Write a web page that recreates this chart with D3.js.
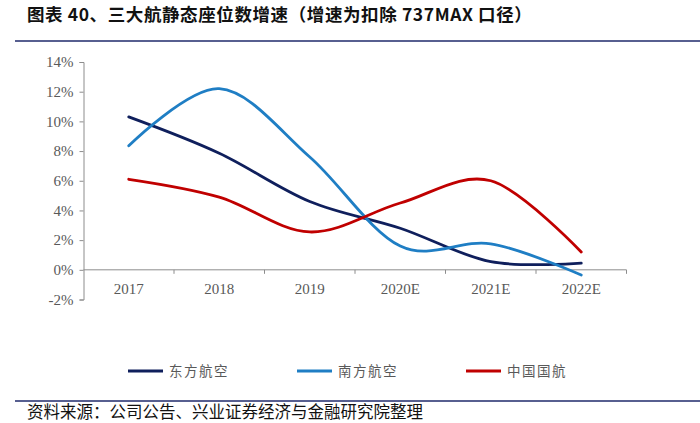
<!DOCTYPE html>
<html>
<head>
<meta charset="utf-8">
<script src="https://cdn.jsdelivr.net/npm/d3@7"></script>
<style>
  body { margin: 0; background: #fff; }
  svg { display: block; }
</style>
</head>
<body>
<script>
// données (%)
const annees = ["2017", "2018", "2019", "2020E", "2021E", "2022E"];
const dongfang = [10.3, 7.85, 4.6, 2.8, 0.55, 0.45];
const nanfang = [8.35, 12.2, 7.6, 1.6, 1.75, -0.35];
const guohang = [6.1, 4.9, 2.55, 4.5, 6.0, 1.2];
const yTicks = [-2, 0, 2, 4, 6, 8, 10, 12, 14];

const series = [
  { nom: "东方航空", valeurs: dongfang, couleur: "#0f1f5c" },
  { nom: "南方航空", valeurs: nanfang, couleur: "#1f7ec4" },
  { nom: "中国国航", valeurs: guohang, couleur: "#c00000" }
];

const W = 700, H = 423;
const svg = d3.select("body").append("svg")
  .attr("width", W)
  .attr("height", H);

// titre + filet
svg.append("text")
  .text("图表 40、三大航静态座位数增速（增速为扣除 737MAX 口径）")
  .attr("x", 27)
  .attr("y", 21)
  .style("font-family", "'Noto Sans CJK SC'")
  .style("font-weight", "bold")
  .style("font-size", "17.5px")
  .style("letter-spacing", "0.6px")
  .style("fill", "#111");

svg.append("line")
  .attr("x1", 15).attr("x2", W)
  .attr("y1", 41).attr("y2", 41)
  .attr("stroke", "#1f2a6b")
  .attr("stroke-width", 1.5);

// échelles
const x = d3.scaleBand()
  .domain(annees)
  .range([83.5, 626.5]);

const y = d3.scaleLinear()
  .domain([-2, 14])
  .range([299.5, 62]);

const gris = "#8c8c8c";
const police = "'Liberation Serif', 'Times New Roman', serif";

// axe Y
const axeY = svg.append("g")
  .attr("transform", "translate(83.5,0)")
  .call(d3.axisLeft(y).tickValues(yTicks).tickSize(4).tickPadding(6).tickFormat(d => d + "%"));
axeY.select(".domain").attr("stroke", gris);
axeY.selectAll(".tick line").attr("stroke", gris);
axeY.selectAll("text")
  .style("font-family", police)
  .style("font-size", "15px")
  .style("fill", "#595959");

// axe X (sur 0%)
const axeX = svg.append("g")
  .attr("transform", "translate(0," + y(0) + ")");
axeX.append("line")
  .attr("x1", x.range()[0]).attr("x2", x.range()[1])
  .attr("stroke", gris);
axeX.selectAll(".tk")
  .data(annees)
  .enter()
  .append("line")
  .attr("x1", d => x(d) + x.bandwidth())
  .attr("x2", d => x(d) + x.bandwidth())
  .attr("y1", 0).attr("y2", 4)
  .attr("stroke", gris);
axeX.selectAll(".lbl")
  .data(annees)
  .enter()
  .append("text")
  .text(d => d)
  .attr("x", d => x(d) + x.bandwidth() / 2)
  .attr("y", 24)
  .attr("text-anchor", "middle")
  .style("font-family", police)
  .style("font-size", "15px")
  .style("fill", "#595959");

// courbes lissées
const ligne = d3.line()
  .x((d, i) => x(annees[i]) + x.bandwidth() / 2)
  .y(d => y(d))
  .curve(d3.curveCardinal.tension(0));

svg.selectAll(".courbe")
  .data(series)
  .enter()
  .append("path")
  .attr("d", d => ligne(d.valeurs))
  .attr("fill", "none")
  .attr("stroke", d => d.couleur)
  .attr("stroke-width", 2.8)
  .attr("stroke-linecap", "round");

// légende
const legX = [128, 297, 466];
const leg = svg.selectAll(".leg")
  .data(series)
  .enter()
  .append("g")
  .attr("transform", (d, i) => "translate(" + legX[i] + ",371)");
leg.append("line")
  .attr("x1", 0).attr("x2", 35)
  .attr("stroke", d => d.couleur)
  .attr("stroke-width", 2.8);
leg.append("text")
  .text(d => d.nom)
  .attr("x", 41)
  .attr("y", 5)
  .style("font-family", "'Noto Sans CJK SC'")
  .style("font-size", "13.5px")
  .style("letter-spacing", "1.5px")
  .style("fill", "#595959");

// filet bas + source
svg.append("line")
  .attr("x1", 15).attr("x2", W)
  .attr("y1", 401).attr("y2", 401)
  .attr("stroke", "#1f2a6b")
  .attr("stroke-width", 1.5);

svg.append("text")
  .text("资料来源：公司公告、兴业证券经济与金融研究院整理")
  .attr("x", 27)
  .attr("y", 418)
  .style("font-family", "'Noto Sans CJK SC'")
  .style("font-size", "16.5px")
  .style("fill", "#111");
</script>
</body>
</html>
